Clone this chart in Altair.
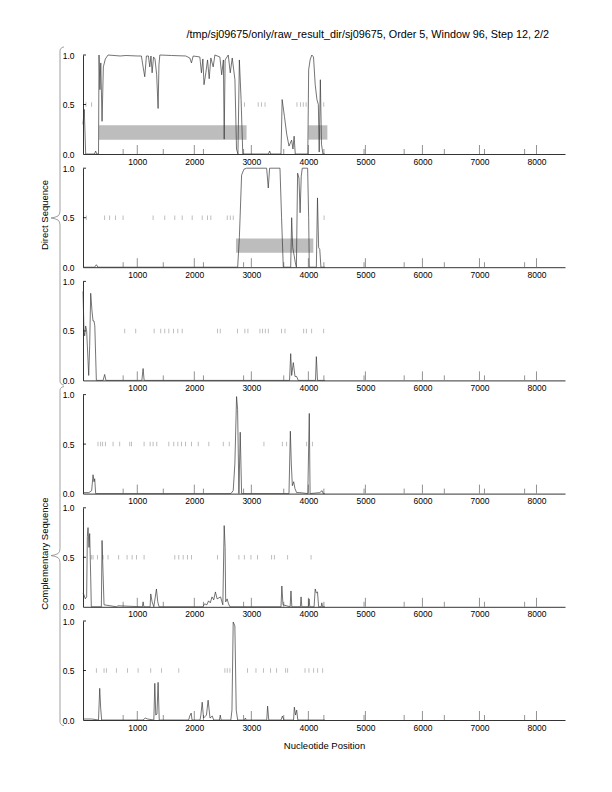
import altair as alt
import pandas as pd
import numpy as np

# ---------------- data ----------------
TITLE = "/tmp/sj09675/only/raw_result_dir/sj09675, Order 5, Window 96, Step 12, 2/2"
X_AXIS_TITLE = "Nucleotide Position"
GROUP_LABELS = ["Direct Sequence", "Complementary Sequence"]
X_DOMAIN = [48, 8500]
X_LABELS = [1000, 2000, 3000, 4000, 5000, 6000, 7000, 8000]
MINOR_TICKS = [752, 1456, 2160, 2864, 3568, 4272, 4976, 5680, 6384, 7088, 7792]
Y_LABELS = [0.0, 0.5, 1.0]

p1_pos = [48, 70, 95, 250, 270, 290, 320, 329, 345, 360, 382, 405, 440, 487, 700, 800, 1000, 1072,
          1102, 1131, 1160, 1195, 1219, 1240, 1260, 1285, 1310, 1340, 1365, 1380, 1395, 1600, 1850,
          1921, 1950, 1980, 2097, 2125, 2150, 2170, 2202, 2232, 2261, 2290, 2331, 2361, 2448, 2480,
          2510, 2524, 2540, 2595, 2630, 2665, 2712, 2740, 2765, 2790, 2820, 2850, 3300, 3320, 3340,
          3520, 3540, 3580, 3620, 3660, 3706, 3730, 3750, 3770, 3990, 4005, 4030, 4060, 4090, 4120,
          4150, 4175, 4190, 4210, 4230, 4255, 4290]
p1_val = [0.30, 0.45, 0.0, 0.0, 0.03, 0.0, 0.0, 1.0, 0.65, 0.92, 0.33, 0.88, 0.96, 1.0, 0.99, 0.995,
          0.99, 0.99, 0.88, 0.78, 0.99, 0.99, 0.88, 0.99, 0.82, 0.98, 0.96, 0.80, 0.46, 0.90, 1.0,
          0.995, 0.99, 0.97, 0.92, 0.99, 0.98, 0.82, 0.96, 0.70, 0.82, 0.95, 0.76, 0.97, 0.88, 1.0,
          0.98, 0.80, 0.95, 0.15, 0.95, 1.0, 0.82, 0.97, 0.75, 0.05, 0.0, 0.95, 0.55, 0.0, 0.0, 0.03,
          0.0, 0.0, 0.55, 0.38, 0.20, 0.08, 0.14, 0.05, 0.18, 0.0, 0.0, 0.85, 0.95, 1.0, 0.98, 0.70,
          0.55, 0.50, 0.02, 0.75, 0.10, 0.0, 0.0]

p2_pos = [48, 250, 282, 310, 2760, 2790, 2829, 2870, 2917, 3268, 3297, 3320, 3502, 3530, 3560, 3690,
          3707, 3725, 3750, 3770, 3790, 3811, 3835, 3855, 3875, 3893, 3987, 4005, 4016, 4140, 4160,
          4180, 4200, 4220, 4290]
p2_val = [0.0, 0.0, 0.025, 0.0, 0.0, 0.30, 0.93, 0.99, 1.0, 1.0, 0.80, 1.0, 1.0, 0.50, 0.0, 0.0,
          0.50, 0.20, 0.12, 0.05, 0.0, 0.95, 0.90, 0.55, 0.92, 1.0, 1.0, 0.50, 0.0, 0.0, 0.70, 0.20,
          0.18, 0.0, 0.0]

p3_pos = [48, 65, 77, 95, 112, 136, 148, 165, 183, 206, 224, 241, 255, 282, 400, 428, 450, 1080,
          1102, 1120, 3670, 3690, 3707, 3736, 3765, 3794, 3823, 4125, 4140, 4160, 4290]
p3_val = [0.90, 0.50, 0.45, 0.55, 0.50, 0.20, 0.05, 0.35, 0.88, 0.70, 0.60, 0.60, 0.55, 0.0, 0.0,
          0.06, 0.0, 0.0, 0.12, 0.0, 0.0, 0.27, 0.05, 0.18, 0.04, 0.04, 0.0, 0.0, 0.24, 0.0, 0.0]

p4_pos = [48, 150, 200, 224, 241, 253, 270, 2640, 2682, 2711, 2741, 2759, 2782, 2805, 2829, 3660,
          3684, 3701, 3719, 3742, 3765, 3794, 3850, 3990, 4016, 4030, 4200, 4240, 4260, 4290]
p4_val = [0.01, 0.01, 0.03, 0.19, 0.12, 0.15, 0.0, 0.0, 0.03, 0.30, 0.98, 0.85, 0.0, 0.62, 0.0,
          0.0, 0.63, 0.30, 0.08, 0.12, 0.05, 0.01, 0.01, 0.0, 0.81, 0.0, 0.01, 0.03, 0.0, 0.0]

p5_pos = [48, 65, 89, 112, 124, 136, 153, 165, 183, 194, 370, 382, 399, 417, 640, 660, 1090, 1102,
          1115, 1225, 1236, 1260, 1290, 1336, 1359, 1382, 2150, 2180, 2220, 2250, 2280, 2310, 2340,
          2370, 2400, 2460, 2500, 2524, 2540, 2550, 2575, 2600, 2625, 3520, 3535, 3555, 3680, 3695,
          3710, 3860, 3872, 3885, 4000, 4012, 4025, 4100, 4120, 4140, 4160, 4180, 4225, 4235, 4250,
          4290]
p5_val = [0.14, 0.12, 0.08, 0.10, 0.71, 0.80, 0.60, 0.74, 0.30, 0.0, 0.0, 0.67, 0.35, 0.02, 0.0,
          0.01, 0.0, 0.05, 0.0, 0.0, 0.13, 0.05, 0.0, 0.18, 0.05, 0.0, 0.0, 0.03, 0.02, 0.06, 0.04,
          0.10, 0.07, 0.15, 0.08, 0.10, 0.02, 0.82, 0.60, 0.05, 0.08, 0.03, 0.0, 0.0, 0.21, 0.02,
          0.0, 0.16, 0.0, 0.0, 0.10, 0.0, 0.0, 0.08, 0.0, 0.0, 0.18, 0.14, 0.15, 0.0, 0.0, 0.04,
          0.0, 0.0]

p6_pos = [48, 200, 320, 341, 358, 375, 1100, 1140, 1180, 1290, 1307, 1324, 1345, 1365, 1385, 1900,
          1920, 1945, 1960, 2100, 2115, 2138, 2162, 2213, 2242, 2275, 2314, 2340, 2440, 2455, 2470,
          2640, 2660, 2682, 2711, 2735, 2760, 2880, 2895, 2910, 3270, 3285, 3305, 3520, 3545, 3570,
          3740, 3754, 3775, 3795, 3815, 4290]
p6_val = [0.01, 0.01, 0.0, 0.32, 0.12, 0.0, 0.0, 0.02, 0.01, 0.0, 0.37, 0.05, 0.06, 0.38, 0.0, 0.0,
          0.04, 0.07, 0.0, 0.0, 0.05, 0.18, 0.02, 0.05, 0.20, 0.02, 0.04, 0.0, 0.0, 0.05, 0.0, 0.0,
          0.10, 0.99, 0.95, 0.10, 0.0, 0.0, 0.02, 0.0, 0.0, 0.14, 0.0, 0.0, 0.04, 0.0, 0.0, 0.13,
          0.05, 0.10, 0.0, 0.0]

stops1 = [100, 200, 2880, 3120, 3180, 3240, 3800, 3860, 3910, 3960, 4270]
stops2 = [106, 428, 516, 616, 750, 1277, 1482, 1658, 1787, 1962, 2138, 2232, 2290, 2577, 2630,
          2682, 4275]
stops3 = [780, 973, 1295, 1412, 1482, 1553, 1634, 1711, 1787, 2407, 2454, 2759, 2887, 2940, 3151,
          3198, 3244, 3297, 3531, 3590, 3918, 3964, 4058, 4269]
stops4 = [311, 358, 393, 440, 575, 692, 868, 897, 1119, 1225, 1277, 1342, 1553, 1640, 1711, 1775,
          1845, 1951, 2068, 2255, 2507, 2612, 3221, 3543, 3619, 3970, 4070]
stops5 = [194, 224, 300, 399, 487, 674, 821, 909, 985, 1119, 1658, 1728, 1804, 1880, 1951, 2407,
          2782, 2876, 2993, 3110, 3356, 3403, 3637, 4047]
stops6 = [282, 417, 458, 633, 827, 1014, 1236, 1424, 1728, 2536, 2577, 2624, 2934, 3081, 3215,
          3338, 3443, 3602, 3637, 3941, 4010, 4093, 4163, 4251]

genes1_start = [329, 4000]
genes1_end = [2916, 4333]
genes2_start = [2730]
genes2_end = [4087]
GENE_LOW, GENE_HIGH = 0.145, 0.29

panels = [
    (p1_pos, p1_val, stops1, genes1_start, genes1_end),
    (p2_pos, p2_val, stops2, genes2_start, genes2_end),
    (p3_pos, p3_val, stops3, [], []),
    (p4_pos, p4_val, stops4, [], []),
    (p5_pos, p5_val, stops5, [], []),
    (p6_pos, p6_val, stops6, [], []),
]

# ---------------- layout ----------------
W, H = 482, 99
SPACING = 14.2
FONT = "Liberation Sans"
LINE_COLOR = "#3a3a3a"
GENE_COLOR = "#bdbdbd"
STOP_COLOR = "#8c8c8c"
TICK_COLOR = "#777777"


def px_x(px):
    return X_DOMAIN[0] + px * (X_DOMAIN[1] - X_DOMAIN[0]) / W


def px_y(py):
    return 1 - py / H


def brace_df(top, tip, bottom, xline=-23, r=4.0):
    pts = []
    for a in np.linspace(90, 180, 7):
        t = np.radians(a)
        pts.append((r + r * np.cos(t), top + r - r * np.sin(t)))
    mid = [(0, tip - 7), (-0.5, tip - 4), (-2, tip - 2), (-5, tip - 0.8), (-9, tip),
           (-5, tip + 0.8), (-2, tip + 2), (-0.5, tip + 4), (0, tip + 7)]
    pts.extend(mid)
    for a in np.linspace(180, 90, 7):
        t = np.radians(a)
        pts.append((r + r * np.cos(t), bottom - r + r * np.sin(t)))
    return pd.DataFrame({
        "i": list(range(len(pts))),
        "bx": [px_x(xline + p[0]) for p in pts],
        "by": [px_y(p[1]) for p in pts],
    })


xscale = alt.Scale(domain=X_DOMAIN, nice=False, zero=False)
yscale = alt.Scale(domain=[0, 1], nice=False, zero=False)


def x_enc(field, last):
    return alt.X(
        f"{field}:Q", scale=xscale,
        axis=alt.Axis(values=X_LABELS, format="d", ticks=False, grid=False,
                      labelPadding=3, labelFontSize=8.5, labelFont=FONT, labelColor="#000",
                      labelFlush=False, domainColor="#000", domainWidth=0.8,
                      title=X_AXIS_TITLE if last else None,
                      titleFont=FONT, titleFontSize=9.5, titleFontWeight="normal",
                      titleColor="#000", titlePadding=9),
    )


def y_enc(field):
    return alt.Y(
        f"{field}:Q", scale=yscale,
        axis=alt.Axis(values=Y_LABELS, format=".1f", ticks=False, grid=False,
                      labelPadding=9, labelFontSize=8.5, labelFont=FONT, labelColor="#000",
                      labelFlush=False, domainColor="#000", domainWidth=0.8, title=None),
    )


charts = []
for idx, (pos, val, stops, gs, ge) in enumerate(panels):
    last = idx == len(panels) - 1
    layers = []
    if gs:
        gdf = pd.DataFrame({"gs": gs, "ge": ge, "lo": [GENE_LOW] * len(gs), "hi": [GENE_HIGH] * len(gs)})
        layers.append(alt.Chart(gdf).mark_rect(color=GENE_COLOR).encode(
            x=x_enc("gs", last), x2="ge:Q", y=y_enc("lo"), y2="hi:Q"))
    sdf = pd.DataFrame({"s": stops, "yy": [0.5] * len(stops)})
    layers.append(alt.Chart(sdf).mark_tick(orient="vertical", size=4.5, thickness=0.8,
                                           color=STOP_COLOR).encode(
        x=x_enc("s", last), y=y_enc("yy")))
    mdf = pd.DataFrame({"t": X_LABELS})
    layers.append(alt.Chart(mdf).mark_rule(color=TICK_COLOR, strokeWidth=0.8).encode(
        x=x_enc("t", last), y=alt.value(H), y2=alt.value(H - 9)))
    ndf = pd.DataFrame({"m": MINOR_TICKS})
    layers.append(alt.Chart(ndf).mark_rule(color=TICK_COLOR, strokeWidth=0.8).encode(
        x=x_enc("m", last), y=alt.value(H), y2=alt.value(H - 5)))
    ydf = pd.DataFrame({"yt": [0.5, 1.0]})
    layers.append(alt.Chart(ydf).mark_rule(color="#000", strokeWidth=0.8).encode(
        x=alt.value(0), x2=alt.value(3), y=y_enc("yt")))
    ldf = pd.DataFrame({"pos": pos, "val": val})
    layers.append(alt.Chart(ldf).mark_line(color=LINE_COLOR, strokeWidth=0.7).encode(
        x=x_enc("pos", last), y=y_enc("val")))

    one = pd.DataFrame({"k": [0]})
    if idx == 0:
        layers.append(alt.Chart(one).mark_text(text=TITLE, align="right", baseline="alphabetic",
                                               font=FONT, fontSize=10.8, color="#000").encode(
            x=alt.value(466), y=alt.value(-17)))
        bdf = brace_df(-8, 163, 330)
        layers.append(alt.Chart(bdf).mark_line(color="#888", strokeWidth=0.8).encode(
            x=x_enc("bx", last), y=y_enc("by"), order="i:Q"))
        layers.append(alt.Chart(one).mark_text(text=GROUP_LABELS[0], angle=270, align="center",
                                               baseline="middle", font=FONT, fontSize=9.5,
                                               color="#000").encode(
            x=alt.value(-38), y=alt.value(160)))
    if idx == 3:
        bdf = brace_df(-8, 161, 331)
        layers.append(alt.Chart(bdf).mark_line(color="#888", strokeWidth=0.8).encode(
            x=x_enc("bx", last), y=y_enc("by"), order="i:Q"))
        layers.append(alt.Chart(one).mark_text(text=GROUP_LABELS[1], angle=270, align="center",
                                               baseline="middle", font=FONT, fontSize=9.5,
                                               color="#000").encode(
            x=alt.value(-38), y=alt.value(159)))

    charts.append(alt.layer(*layers).properties(width=W, height=H))

chart = alt.vconcat(*charts, spacing=SPACING, bounds="flush").properties(
    padding={"left": 32, "top": 21, "right": 5, "bottom": 5}
).configure_view(stroke=None)

chart.save("out.html", embed_options={"renderer": "svg", "actions": False})
